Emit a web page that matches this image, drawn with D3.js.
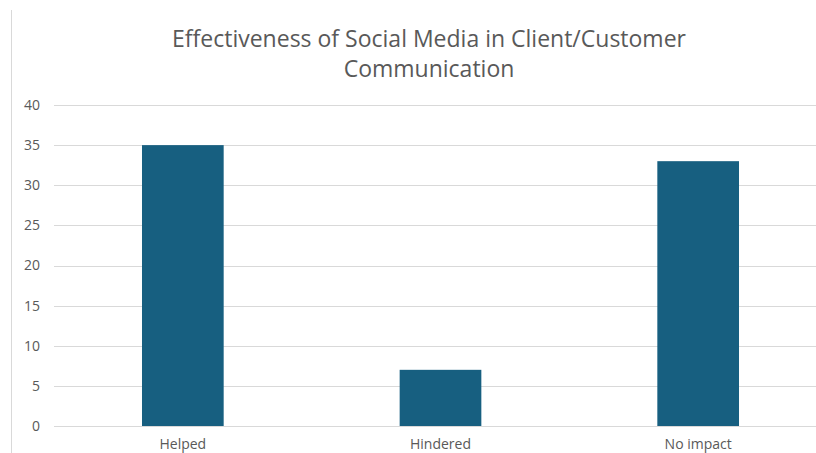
<!DOCTYPE html>
<html>
<head>
<meta charset="utf-8">
<script src="https://cdn.jsdelivr.net/npm/d3@7"></script>
<style>
  body { margin: 0; background: #fff; }
  text { font-family: "Open Sans", "Noto Sans", sans-serif; fill: #595959; }
</style>
</head>
<body>
<div id="chart"></div>
<script>
const categories = ["Helped", "Hindered", "No impact"];
const values = [35, 7, 33];
const yTicks = [0, 5, 10, 15, 20, 25, 30, 35, 40];
const titleLines = ["Effectiveness of Social Media in Client/Customer", "Communication"];

const width = 816, height = 453;
const margin = { top: 105, right: -11, bottom: 27, left: 54 };

const svg = d3.select("#chart").append("svg")
    .attr("width", width)
    .attr("height", height);

// chart area border (left edge visible)
svg.append("line")
    .attr("x1", 11.5).attr("x2", 11.5)
    .attr("y1", 10).attr("y2", height)
    .attr("stroke", "#d9d9d9");

const x = d3.scaleBand()
    .domain(categories)
    .range([margin.left, width - margin.right])
    .paddingInner(0.683)
    .paddingOuter(0.3415);

const y = d3.scaleLinear()
    .domain([0, 40])
    .range([height - margin.bottom, margin.top]);

// gridlines
svg.append("g")
  .selectAll("line")
  .data(yTicks)
  .enter().append("line")
    .attr("x1", margin.left)
    .attr("x2", width)
    .attr("y1", d => Math.round(y(d)) + 0.5)
    .attr("y2", d => Math.round(y(d)) + 0.5)
    .attr("stroke", "#d9d9d9");

// y labels
svg.append("g")
  .selectAll("text")
  .data(yTicks)
  .enter().append("text")
    .attr("x", 40)
    .attr("y", d => y(d))
    .attr("dy", "0.35em")
    .attr("text-anchor", "end")
    .style("font-size", "14px")
    .text(d => d);

// bars
svg.append("g")
  .selectAll("rect")
  .data(values)
  .enter().append("rect")
    .attr("x", (d, i) => x(categories[i]))
    .attr("y", d => y(d))
    .attr("width", x.bandwidth())
    .attr("height", d => y(0) - y(d))
    .attr("fill", "#175f80");

// x labels
svg.append("g")
  .selectAll("text")
  .data(categories)
  .enter().append("text")
    .attr("x", d => x(d) + x.bandwidth() / 2)
    .attr("y", 449)
    .attr("text-anchor", "middle")
    .style("font-size", "14px")
    .text(d => d);

// title
svg.append("g")
  .selectAll("text")
  .data(titleLines)
  .enter().append("text")
    .attr("x", 429)
    .attr("y", (d, i) => 47 + i * 30)
    .attr("text-anchor", "middle")
    .style("font-size", "23px")
    .text(d => d);
</script>
</body>
</html>
